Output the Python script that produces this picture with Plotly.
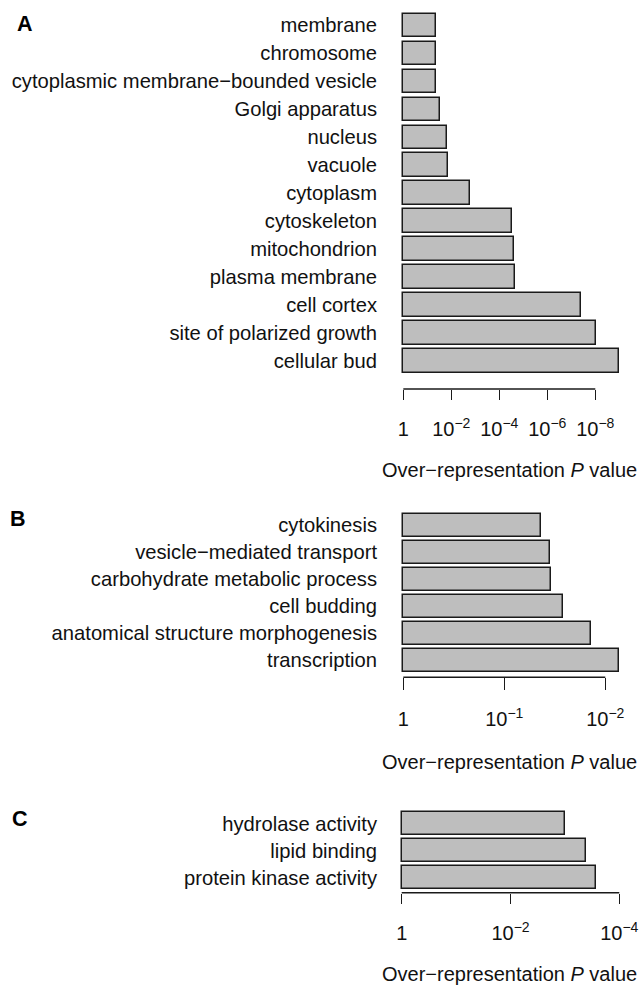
import plotly.graph_objects as go

W, H = 642, 988

# ---------------- data ----------------
a_terms = ["membrane", "chromosome", "cytoplasmic membrane−bounded vesicle",
           "Golgi apparatus", "nucleus", "vacuole", "cytoplasm", "cytoskeleton",
           "mitochondrion", "plasma membrane", "cell cortex",
           "site of polarized growth", "cellular bud"]
a_neglog10_p = [1.35, 1.35, 1.35, 1.53, 1.81, 1.85, 2.78, 4.54, 4.60, 4.65,
                7.39, 8.03, 9.00]
a_tickvals = [0, 2, 4, 6, 8]
a_ticktext = ["1", "10<sup>−2</sup>", "10<sup>−4</sup>", "10<sup>−6</sup>",
              "10<sup>−8</sup>"]

b_terms = ["cytokinesis", "vesicle−mediated transport",
           "carbohydrate metabolic process", "cell budding",
           "anatomical structure morphogenesis", "transcription"]
b_neglog10_p = [1.36, 1.45, 1.46, 1.58, 1.86, 2.14]
b_tickvals = [0, 1, 2]
b_ticktext = ["1", "10<sup>−1</sup>", "10<sup>−2</sup>"]

c_terms = ["hydrolase activity", "lipid binding", "protein kinase activity"]
c_neglog10_p = [3.01, 3.39, 3.58]
c_tickvals = [0, 2, 4]
c_ticktext = ["1", "10<sup>−2</sup>", "10<sup>−4</sup>"]

panel_letters = ["A", "B", "C"]
x_title = "Over−representation <i>P</i> value"

# ---------------- layout geometry (pixels) ----------------
FONT = "Liberation Sans, Arial, Helvetica, sans-serif"
panels = [
    dict(terms=a_terms, vals=a_neglog10_p, tv=a_tickvals, tt=a_ticktext,
         px0=403.3, ppu=24.0, top=4, axis=389.0, c0=25.3, pitch=27.97,
         bw=0.835, ticklen=10, title_y=470, letter=(24.5, 24)),
    dict(terms=b_terms, vals=b_neglog10_p, tv=b_tickvals, tt=b_ticktext,
         px0=403.3, ppu=101.0, top=505, axis=677.3, c0=525.3, pitch=26.98,
         bw=0.84, ticklen=12, title_y=762, letter=(17.5, 519)),
    dict(terms=c_terms, vals=c_neglog10_p, tv=c_tickvals, tt=c_ticktext,
         px0=401.7, ppu=54.4, top=805, axis=892.7, c0=823.7, pitch=26.9,
         bw=0.845, ticklen=10.5, title_y=974, letter=(20.5, 818.5)),
]
L, R = 394.0, 628.0

fig = go.Figure()
annotations = []
shapes = []
for i, p in enumerate(panels):
    k = "" if i == 0 else str(i + 1)
    n = len(p["terms"])
    fig.add_trace(go.Bar(
        x=p["vals"], y=list(range(n)), orientation="h", width=p["bw"],
        marker=dict(color="#bebebe", line=dict(color="#1a1a1a", width=1.5)),
        xaxis="x" + k, yaxis="y" + k, showlegend=False, hoverinfo="skip"))
    xr = [(L - p["px0"]) / p["ppu"], (R - p["px0"]) / p["ppu"]]
    yr = [(p["axis"] - p["c0"]) / p["pitch"], (p["top"] - p["c0"]) / p["pitch"]]
    fig.layout["xaxis" + k] = dict(
        domain=[L / W, R / W], range=xr, anchor="y" + k,
        tickvals=p["tv"], ticktext=p["tt"], ticks="outside",
        ticklen=p["ticklen"], tickwidth=1.4, tickcolor="#1a1a1a",
        showline=False, showgrid=False, zeroline=False,
        tickfont=dict(family=FONT, size=20, color="#111111"),
        ticklabelstandoff=12, fixedrange=True, automargin=False)
    fig.layout["yaxis" + k] = dict(
        domain=[1 - p["axis"] / H, 1 - p["top"] / H], range=yr,
        anchor="x" + k, tickvals=list(range(n)), ticktext=p["terms"],
        ticks="", showline=False, showgrid=False, zeroline=False,
        tickfont=dict(family=FONT, size=20.2, color="#111111"),
        ticklabelstandoff=16, fixedrange=True, automargin=False)
    shapes.append(dict(type="line", xref="x" + k, yref="y" + k + " domain",
                       x0=p["tv"][0], x1=p["tv"][-1], y0=0, y1=0,
                       line=dict(color="#1a1a1a", width=1.4)))
    annotations.append(dict(
        text=x_title, xref="paper", yref="paper", x=509 / W,
        y=1 - p["title_y"] / H, xanchor="center", yanchor="middle",
        showarrow=False, font=dict(family=FONT, size=20, color="#111111")))
    lx, ly = p["letter"]
    annotations.append(dict(
        text="<b>" + panel_letters[i] + "</b>", xref="paper", yref="paper",
        x=lx / W, y=1 - ly / H, xanchor="center", yanchor="middle",
        showarrow=False, font=dict(family=FONT, size=21.5, color="#000000")))

fig.update_layout(width=W, height=H, autosize=False,
                  margin=dict(l=0, r=0, t=0, b=0, pad=0),
                  paper_bgcolor="white", plot_bgcolor="white",
                  annotations=annotations, shapes=shapes, bargap=0)
fig.write_html("out.html", config={"responsive": False, "displayModeBar": False})
